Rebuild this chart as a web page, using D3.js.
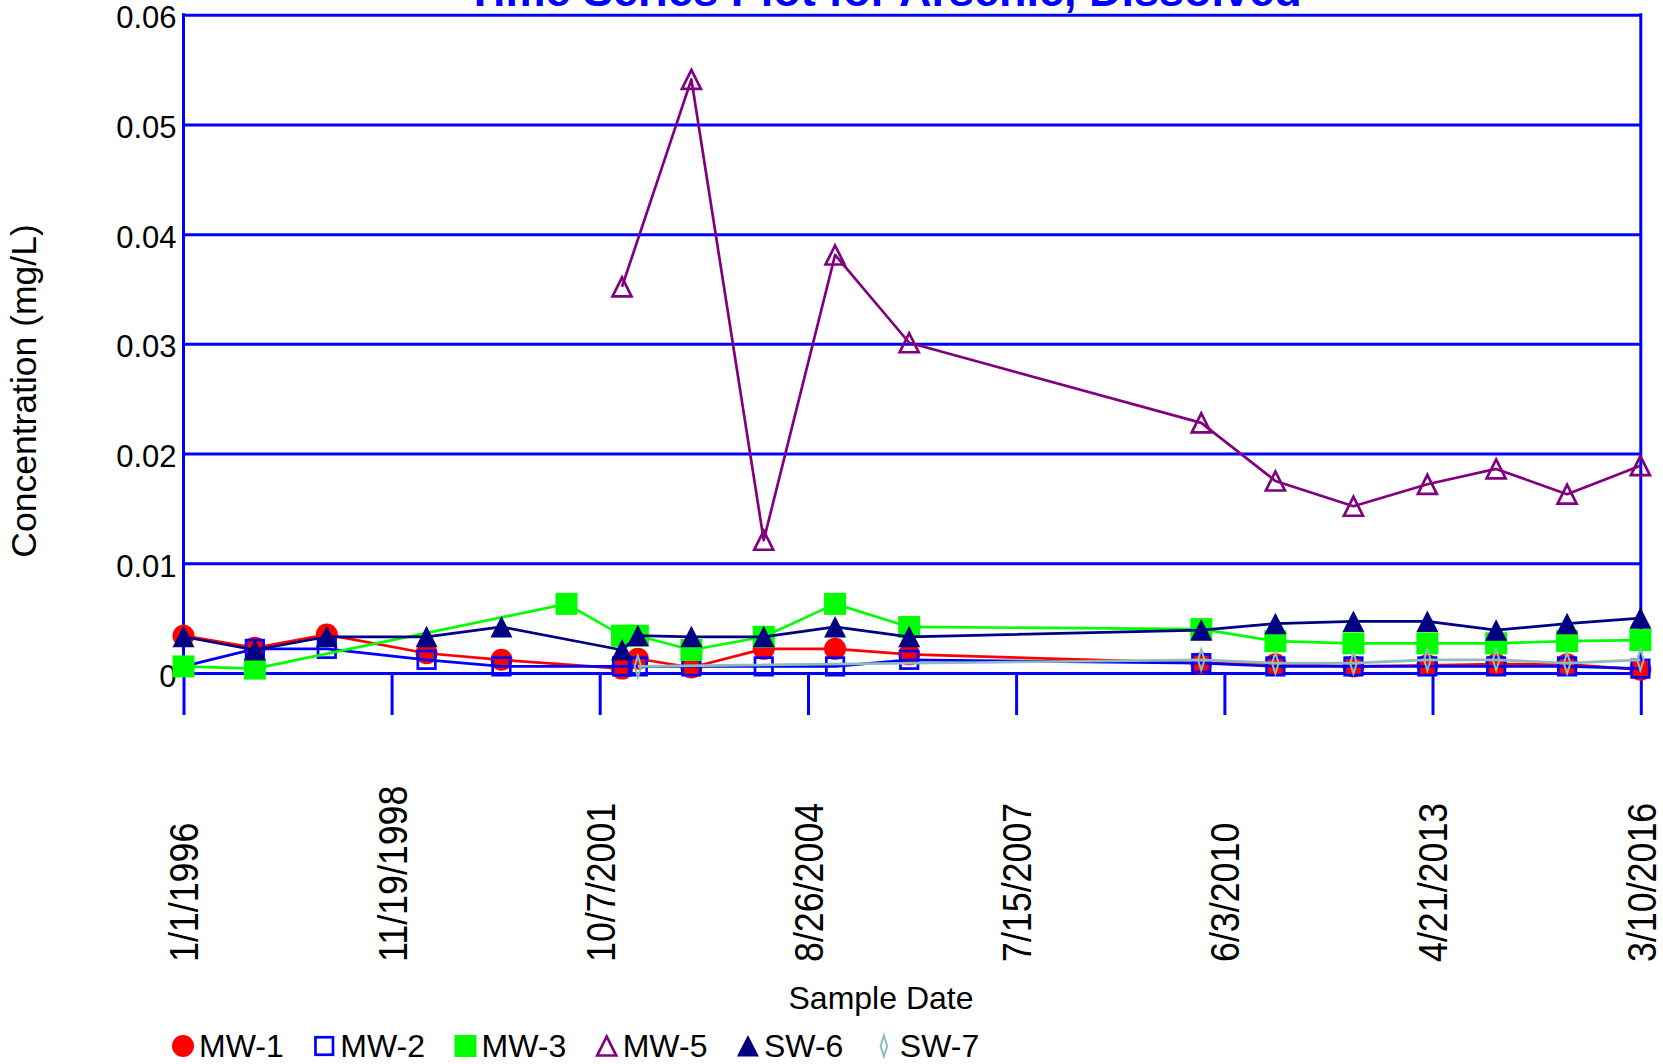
<!DOCTYPE html>
<html>
<head>
<meta charset="utf-8">
<script src="https://cdn.jsdelivr.net/npm/d3@7"></script>
<style>
  body { margin: 0; background: #fff; }
  svg { display: block; font-family: "Liberation Sans", Arial, sans-serif; }
</style>
</head>
<body>
<div id="chart"></div>
<script>
const width = 1663;
const height = 1064;

// sample dates shared by all wells (null = not sampled that round)
const sampleDates = [
  "1996-01-01", "1996-12-27", "1997-12-26", "1999-05-15", "2000-05-28",
  "2001-04-22", "2002-01-28", "2002-04-18", "2003-01-14", "2004-01-15",
  "2005-01-10", "2006-01-20", "2010-02-06", "2011-02-16", "2012-03-17",
  "2013-03-26", "2014-03-09", "2015-03-03", "2016-03-08"
];

const mw1 = [0.0034, 0.0023, 0.0035, 0.0018, 0.0012, null, 0.0004, 0.0013, 0.0005, 0.0022,
  0.0022, 0.0017, 0.0009, 0.0008, 0.0006, 0.0007, 0.0008, 0.0008, 0.0003];
const mw2 = [0.0006, 0.0022, 0.0022, 0.0012, 0.0006, null, 0.0006, 0.0006, 0.0006, 0.0006,
  0.0006, 0.0012, 0.0009, 0.0006, 0.0006, 0.0006, 0.0006, 0.0006, 0.0004];
const mw3 = [0.0006, 0.0004, null, null, null, 0.0063, 0.0034, 0.0034, 0.0021, 0.0033,
  0.0063, 0.0042, 0.0040, 0.0029, 0.0027, 0.0027, 0.0027, 0.0029, 0.0030];
const mw5 = [null, null, null, null, null, null, 0.0352, null, 0.0541, 0.0121,
  0.0381, 0.0301, 0.0228, 0.0175, 0.0152, 0.0172, 0.0186, 0.0163, 0.0189];
const sw6 = [0.0033, 0.0021, 0.0033, 0.0033, 0.0042, null, 0.0021, 0.0034, 0.0033, 0.0033,
  0.0042, 0.0033, 0.0039, 0.0045, 0.0047, 0.0047, 0.0039, 0.0045, 0.0050];
const sw7 = [null, null, null, null, null, null, null, 0.0006, null, null,
  null, null, 0.0012, 0.0009, 0.0009, 0.0012, 0.0012, 0.0009, 0.0012];

const seriesNames = ["MW-1", "MW-2", "MW-3", "MW-5", "SW-6", "SW-7"];
const seriesValues = [mw1, mw2, mw3, mw5, sw6, sw7];
const seriesColors = ["#ff0000", "#0000ff", "#00ff00", "#800080", "#000080", "#8fbcb8"];
const seriesShapes = ["circle", "square", "squareFill", "triangle", "triangleFill", "diamond"];

const tickDates = ["1996-01-01", "1998-11-19", "2001-10-07", "2004-08-26",
  "2007-07-15", "2010-06-03", "2013-04-21", "2016-03-10"];
const tickLabels = ["1/1/1996", "11/19/1998", "10/7/2001", "8/26/2004",
  "7/15/2007", "6/3/2010", "4/21/2013", "3/10/2016"];
const yTicks = [0, 0.01, 0.02, 0.03, 0.04, 0.05, 0.06];
const yTickLabels = ["0", "0.01", "0.02", "0.03", "0.04", "0.05", "0.06"];

const parse = d3.utcParse("%Y-%m-%d");
const plotLeft = 183.5;
const plotRight = 1640.8;
const plotTop = 14.7;
const plotBottom = 673;
const tickLen = 42;
const axisBlue = "#0000ff";

const svg = d3
  .select("#chart")
  .append("svg")
  .attr("width", width)
  .attr("height", height);

const x = d3
  .scaleUtc()
  .domain([parse("1996-01-01"), parse("2016-03-10")])
  .range([plotLeft, plotRight]);

const y = d3.scaleLinear().domain([0, 0.06]).range([plotBottom, plotTop]);

// Title (partly cut off at the top, as in the original)
svg
  .append("text")
  .attr("x", 884)
  .attr("y", 6)
  .attr("text-anchor", "middle")
  .style("font-size", "45px")
  .style("font-weight", "bold")
  .attr("fill", axisBlue)
  .text("Time Series Plot for Arsenic, Dissolved");

// Y axis with gridlines across the plot
const yAxis = svg
  .append("g")
  .attr("transform", `translate(${plotLeft},0)`)
  .call(
    d3
      .axisLeft(y)
      .tickValues(yTicks)
      .tickFormat((d, i) => yTickLabels[i])
      .tickSize(-(plotRight - plotLeft))
      .tickPadding(7)
  );
yAxis.select(".domain").remove();
yAxis.selectAll("line").attr("stroke", axisBlue).attr("stroke-width", 3);
yAxis
  .selectAll("text")
  .attr("fill", "#000")
  .attr("dy", "0.42em")
  .style("font-size", "31px");

// X axis: ticks hang below the zero line
const xAxis = svg
  .append("g")
  .attr("transform", `translate(0,${plotBottom})`)
  .call(
    d3
      .axisBottom(x)
      .tickValues(tickDates.map(parse))
      .tickFormat((d, i) => tickLabels[i])
      .tickSize(tickLen)
      .tickSizeOuter(0)
  );
xAxis.select(".domain").remove();
xAxis.selectAll("line").attr("stroke", axisBlue).attr("stroke-width", 3);
xAxis
  .selectAll("text")
  .attr("fill", "#000")
  .attr("x", 0)
  .attr("y", 0)
  .attr("dy", "0.36em")
  .attr("text-anchor", "start")
  .attr("transform", "translate(0,289) rotate(-90) scale(0.895,1)")
  .style("font-size", "40px");

// side borders of the plot
[plotLeft, plotRight].forEach((px) => {
  svg
    .append("line")
    .attr("x1", px)
    .attr("x2", px)
    .attr("y1", plotTop - 1.5)
    .attr("y2", plotBottom)
    .attr("stroke", axisBlue)
    .attr("stroke-width", 3);
});

// Axis titles
svg
  .append("text")
  .attr("x", 881)
  .attr("y", 1009)
  .attr("text-anchor", "middle")
  .style("font-size", "32px")
  .text("Sample Date");

svg
  .append("text")
  .attr("transform", "translate(36,391) rotate(-90)")
  .attr("text-anchor", "middle")
  .style("font-size", "35.5px")
  .text("Concentration (mg/L)");

function drawMarker(g, shape, color) {
  if (shape === "circle") {
    g.append("circle").attr("r", 11).attr("fill", color);
  } else if (shape === "square") {
    g.append("rect")
      .attr("x", -8.75).attr("y", -8.75)
      .attr("width", 17.5).attr("height", 17.5)
      .attr("fill", "none").attr("stroke", color).attr("stroke-width", 2.7);
  } else if (shape === "squareFill") {
    g.append("rect")
      .attr("x", -11).attr("y", -11)
      .attr("width", 22).attr("height", 22)
      .attr("fill", color);
  } else if (shape === "triangle") {
    g.append("path")
      .attr("d", "M0,-9.5L9.5,9.5L-9.5,9.5Z")
      .attr("fill", "none").attr("stroke", color).attr("stroke-width", 2.7);
  } else if (shape === "triangleFill") {
    g.append("path")
      .attr("d", "M0,-11L11,10.5L-11,10.5Z")
      .attr("fill", color);
  } else if (shape === "diamond") {
    g.append("path")
      .attr("d", "M0,-10.5L3.3,0L0,10.5L-3.3,0Z")
      .attr("fill", "none").attr("stroke", color).attr("stroke-width", 2);
  }
}

const line = d3
  .line()
  .x((d) => x(d.date))
  .y((d) => y(d.value));

seriesNames.forEach((name, si) => {
  const pts = sampleDates
    .map((d, i) => ({ date: parse(d), value: seriesValues[si][i] }))
    .filter((d) => d.value !== null);

  svg
    .append("path")
    .datum(pts)
    .attr("d", line)
    .attr("fill", "none")
    .attr("stroke", seriesColors[si])
    .attr("stroke-width", 2.7)
    .attr("stroke-linejoin", "round");

  pts.forEach((p) => {
    const g = svg
      .append("g")
      .attr("transform", `translate(${x(p.date)},${y(p.value)})`);
    drawMarker(g, seriesShapes[si], seriesColors[si]);
  });
});

// Legend along the bottom
let lx = 183;
const legendY = 1046;
seriesNames.forEach((name, si) => {
  const g = svg.append("g").attr("transform", `translate(${lx},${legendY})`);
  drawMarker(g, seriesShapes[si], seriesColors[si]);
  const t = svg
    .append("text")
    .attr("x", lx + 16)
    .attr("y", legendY + 11)
    .style("font-size", "32px")
    .text(name);
  lx += 16 + t.node().getComputedTextLength() + 40.5;
});
</script>
</body>
</html>
